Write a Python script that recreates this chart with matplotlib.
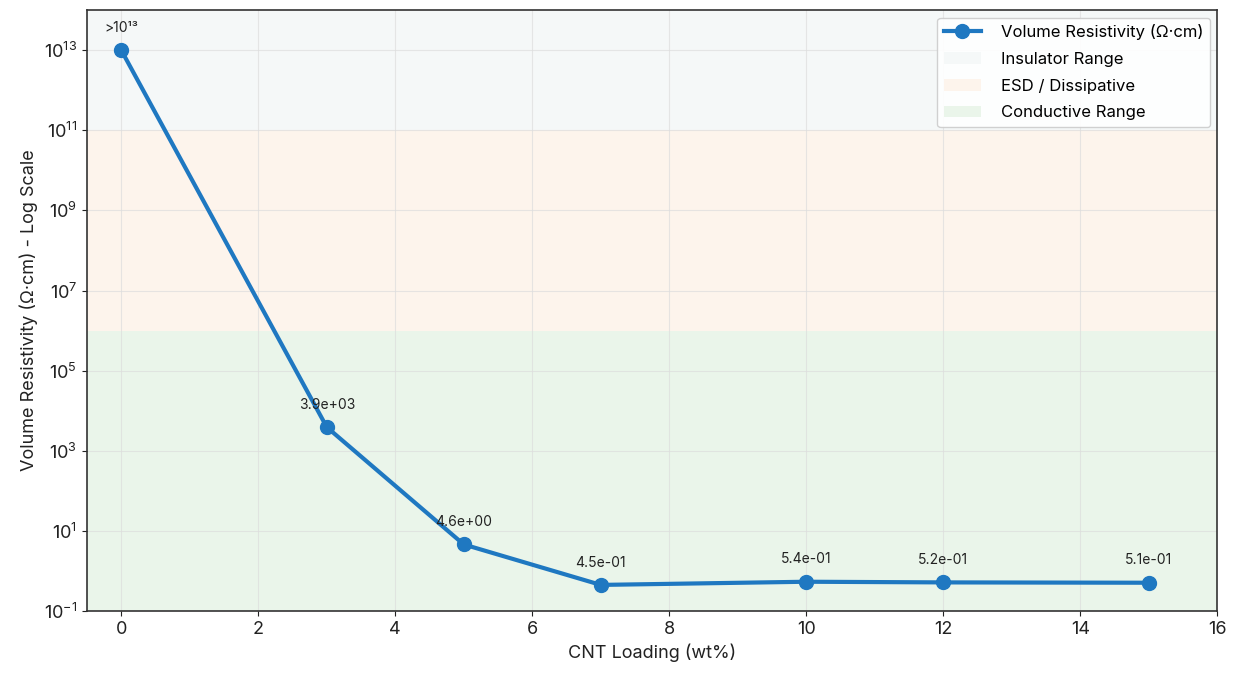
import matplotlib
matplotlib.use("Agg")
import matplotlib.pyplot as plt
from matplotlib.patches import Patch
from matplotlib.lines import Line2D

plt.rcParams['font.family'] = ['Inter', 'DejaVu Sans']

cnt_loading = [0, 3, 5, 7, 10, 12, 15]
resistivity = [1e13, 3.9e3, 4.6e0, 4.5e-1, 5.4e-1, 5.2e-1, 5.1e-1]
point_labels = [">10¹³", "3.9e+03", "4.6e+00", "4.5e-01", "5.4e-01", "5.2e-01", "5.1e-01"]

band_names = ["Insulator Range", "ESD / Dissipative", "Conductive Range"]
band_bounds = [(1e11, 1e14), (1e6, 1e11), (1e-1, 1e6)]
band_colors = ["#f5f8f8", "#fdf4ec", "#eaf5ea"]

fig = plt.figure(figsize=(12.34, 6.73), dpi=100)
ax = fig.add_axes([0.0705, 0.092, 0.916, 0.893])

for (lo, hi), c in zip(band_bounds, band_colors):
    ax.axhspan(lo, hi, color=c, zorder=0, lw=0)

line_color = "#1f78c1"
ax.plot(cnt_loading, resistivity, '-o', color=line_color, lw=3, ms=10, zorder=3,
        label="Volume Resistivity (Ω·cm)")

for x, y, t in zip(cnt_loading, resistivity, point_labels):
    ax.annotate(t, (x, y), textcoords="offset points", xytext=(0, 11),
                ha='center', va='bottom', fontsize=10, color="#222222", zorder=4)

ax.set_yscale('log')
ax.set_ylim(1e-1, 1e14)
ax.set_xlim(-0.5, 16)
ax.set_yticks([1e-1, 1e1, 1e3, 1e5, 1e7, 1e9, 1e11, 1e13])
ax.minorticks_off()
ax.set_xticks(range(0, 17, 2))
ax.tick_params(labelsize=13, colors="#222222")
ax.grid(True, color="#dddddd", lw=0.8, alpha=0.7, zorder=1)
ax.set_axisbelow(True)
for s in ax.spines.values():
    s.set_color("#333333")
    s.set_linewidth(1.2)

ax.set_xlabel("CNT Loading (wt%)", fontsize=13, color="#222222", labelpad=4)
ax.set_ylabel("Volume Resistivity (Ω·cm) - Log Scale", fontsize=13, color="#222222", labelpad=4)

handles = [Line2D([0], [0], color=line_color, lw=3, marker='o', ms=10)]
handles += [Patch(facecolor=c, edgecolor='none') for c in band_colors]
labels = ["Volume Resistivity (Ω·cm)"] + band_names
ax.legend(handles, labels, loc='upper right', fontsize=12, framealpha=0.9,
          edgecolor="#cccccc", fancybox=True, handlelength=2.2,
          labelspacing=0.7, handletextpad=1.2, borderaxespad=0.45)

fig.savefig("out.png", dpi=100)
